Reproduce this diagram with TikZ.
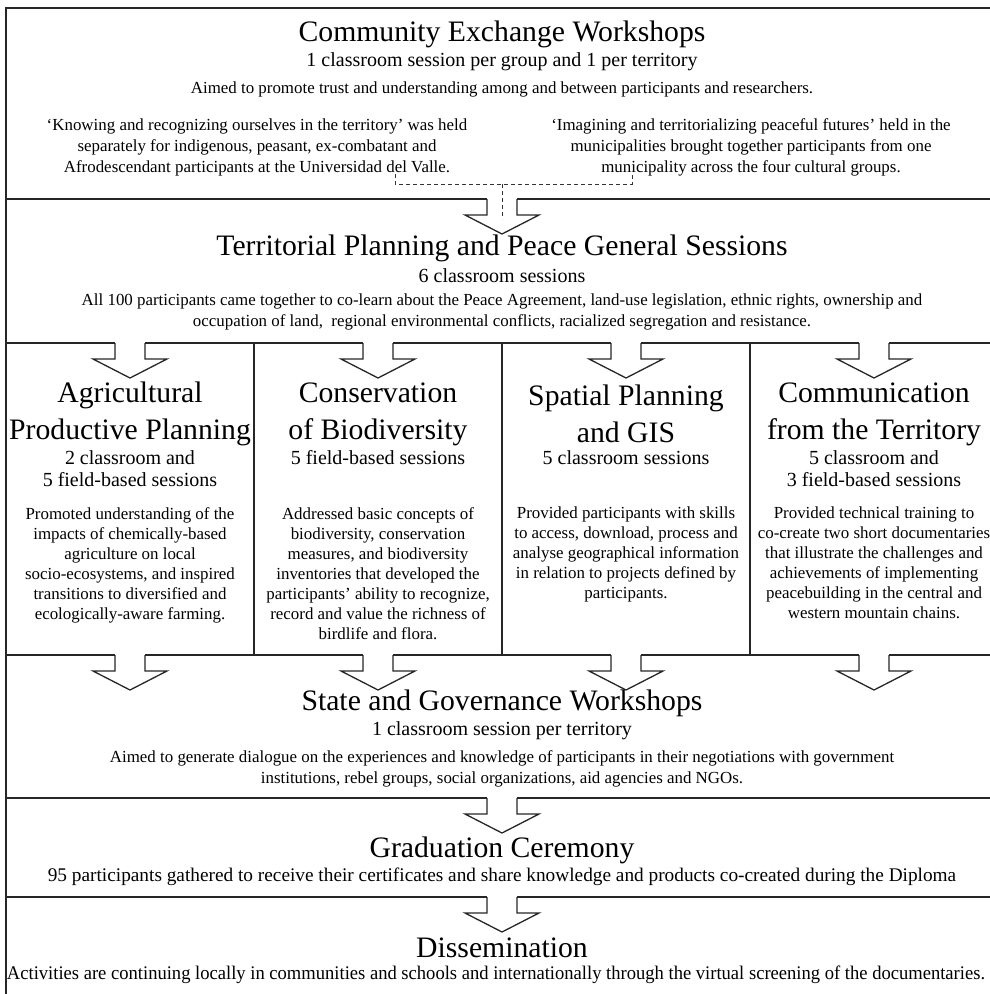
\documentclass[tikz,border=0pt]{standalone}
\usepackage{fontspec}
\setmainfont{Liberation Serif}
\usepackage{graphicx}
\tikzset{
  >=latex,
  rule/.style={line width=1.3pt,black!85},
  blockarr/.pic={
    \fill[white] (-15,-1.5) rectangle (15,16);
    \draw[rule,line join=miter] (-15,0)--(-15,16)--(-37,16)--(0,35)--(37,16)--(15,16)--(15,0);
  },
}
\tikzstyle{ttl}=[font=\fontsize{29.7}{37}\selectfont,align=center,inner sep=0pt]
\tikzstyle{sub}=[font=\fontsize{20}{22}\selectfont,align=center,inner sep=0pt]
\tikzstyle{txt}=[font=\fontsize{16.9}{21}\selectfont,align=center,inner sep=0pt]
\tikzstyle{wide}=[font=\fontsize{19.3}{21}\selectfont,align=center,inner sep=0pt]
\tikzstyle{coltxt}=[font=\fontsize{16.9}{20}\selectfont,align=center,inner sep=0pt,anchor=north]
\tikzstyle{joinline}=[line width=0.8pt,black!80,dash pattern=on 4pt off 3pt]

\begin{document}
\begin{tikzpicture}[x=1pt,y=-1pt]
    \useasboundingbox (0,0) rectangle (990,994);
    \clip (0,0) rectangle (990,994);
    % frame and rules
    \draw[rule,line width=1.8pt] (6,8) rectangle (998,1004);
    \draw[rule] (6,199)--(998,199);
    \draw[rule] (6,343)--(998,343);
    \draw[rule] (6,655)--(998,655);
    \draw[rule] (6,798)--(998,798);
    \draw[rule] (6,897)--(998,897);
    \foreach \x in {254,502,750}
      \draw[rule] (\x,343)--(\x,655);
    % community exchange
    \node[ttl] (cew) at (502,34) {Community Exchange Workshops};
    \node[sub] (cews) at (502,62) {1 classroom session per group and 1 per territory};
    \node[txt] (cewd) at (502,89) {Aimed to promote trust and understanding among and between participants and researchers.};
    \node[txt] (know) at (257,147) {‘Knowing and recognizing ourselves in the territory’ was held\\separately for indigenous, peasant, ex-combatant and\\Afrodescendant participants at the Universidad del Valle.};
    \node[txt] (imag) at (751,147) {‘Imagining and territorializing peaceful futures’ held in the\\municipalities brought together participants from one\\municipality across the four cultural groups.};
    \coordinate (jl) at (395,184);
    \coordinate (jr) at (632,184);
    \coordinate (jm) at (502,184);
    \draw[joinline] ([yshift=10pt]jl)--(jl)--(jr)--([yshift=10pt]jr);
    \pic at (502,199) {blockarr};
    \draw[joinline] (jm)--(502,219);
    % general sessions
    \node[ttl] (gen) at (502,248) {Territorial Planning and Peace General Sessions};
    \node[sub] (gens) at (502,276) {6 classroom sessions};
    \node[txt] (gend) at (502,312) {All 100 participants came together to co-learn about the Peace Agreement, land-use legislation, ethnic rights, ownership and\\occupation of land,\ \ regional environmental conflicts, racialized segregation and resistance.};
    % four modules
    \foreach \x in {130,378,626,874}{
      \pic at (\x,343) {blockarr};
      \pic at (\x,655) {blockarr};
    }
    \node[ttl] (agr) at (130,414) {Agricultural\\Productive Planning};
    \node[sub] (agrs) at (130,469) {2 classroom and\\5 field-based sessions};
    \node[coltxt] (agrd) at (130,507) {Promoted understanding of the\\impacts of chemically-based\\agriculture on local\\socio-ecosystems, and inspired\\transitions to diversified and\\ecologically-aware farming.};
    \node[ttl] (bio) at (378,414) {Conservation\\of Biodiversity};
    \node[sub] (bios) at (378,458) {5 field-based sessions};
    \node[coltxt] (biod) at (378,507) {Addressed basic concepts of\\biodiversity, conservation\\measures, and biodiversity\\inventories that developed the\\participants’ ability to recognize,\\record and value the richness of\\birdlife and flora.};
    \node[ttl] (gis) at (626,414) {Spatial Planning\\and GIS};
    \node[sub] (giss) at (626,458) {5 classroom sessions};
    \node[coltxt] (gisd) at (626,507) {Provided participants with skills\\to access, download, process and\\analyse geographical information\\in relation to projects defined by\\participants.};
    \node[ttl] (com) at (874,414) {Communication\\from the Territory};
    \node[sub] (coms) at (874,469) {5 classroom and\\3 field-based sessions};
    \node[coltxt] (comd) at (874,507) {Provided technical training to\\co-create two short documentaries\\that illustrate the challenges and\\achievements of implementing\\peacebuilding in the central and\\western mountain chains.};
    % state and governance
    \node[ttl] (sgw) at (502,703) {State and Governance Workshops};
    \node[sub] (sgws) at (502,731) {1 classroom session per territory};
    \node[txt] (sgwd) at (502,769) {Aimed to generate dialogue on the experiences and knowledge of participants in their negotiations with government\\institutions, rebel groups, social organizations, aid agencies and NGOs.};
    \pic at (502,798) {blockarr};
    % graduation
    \node[ttl] (grad) at (502,850) {Graduation Ceremony};
    \node[wide] (gradd) at (502,877) {95 participants gathered to receive their certificates and share knowledge and products co-created during the Diploma};
    \pic at (502,897) {blockarr};
    % dissemination
    \node[ttl] (dis) at (502,948) {Dissemination};
    \node[wide] (disd) at (496,975) {\resizebox{978pt}{\height}{Activities are continuing locally in communities and schools and internationally through the virtual screening of the documentaries.}};
\end{tikzpicture}
\end{document}
